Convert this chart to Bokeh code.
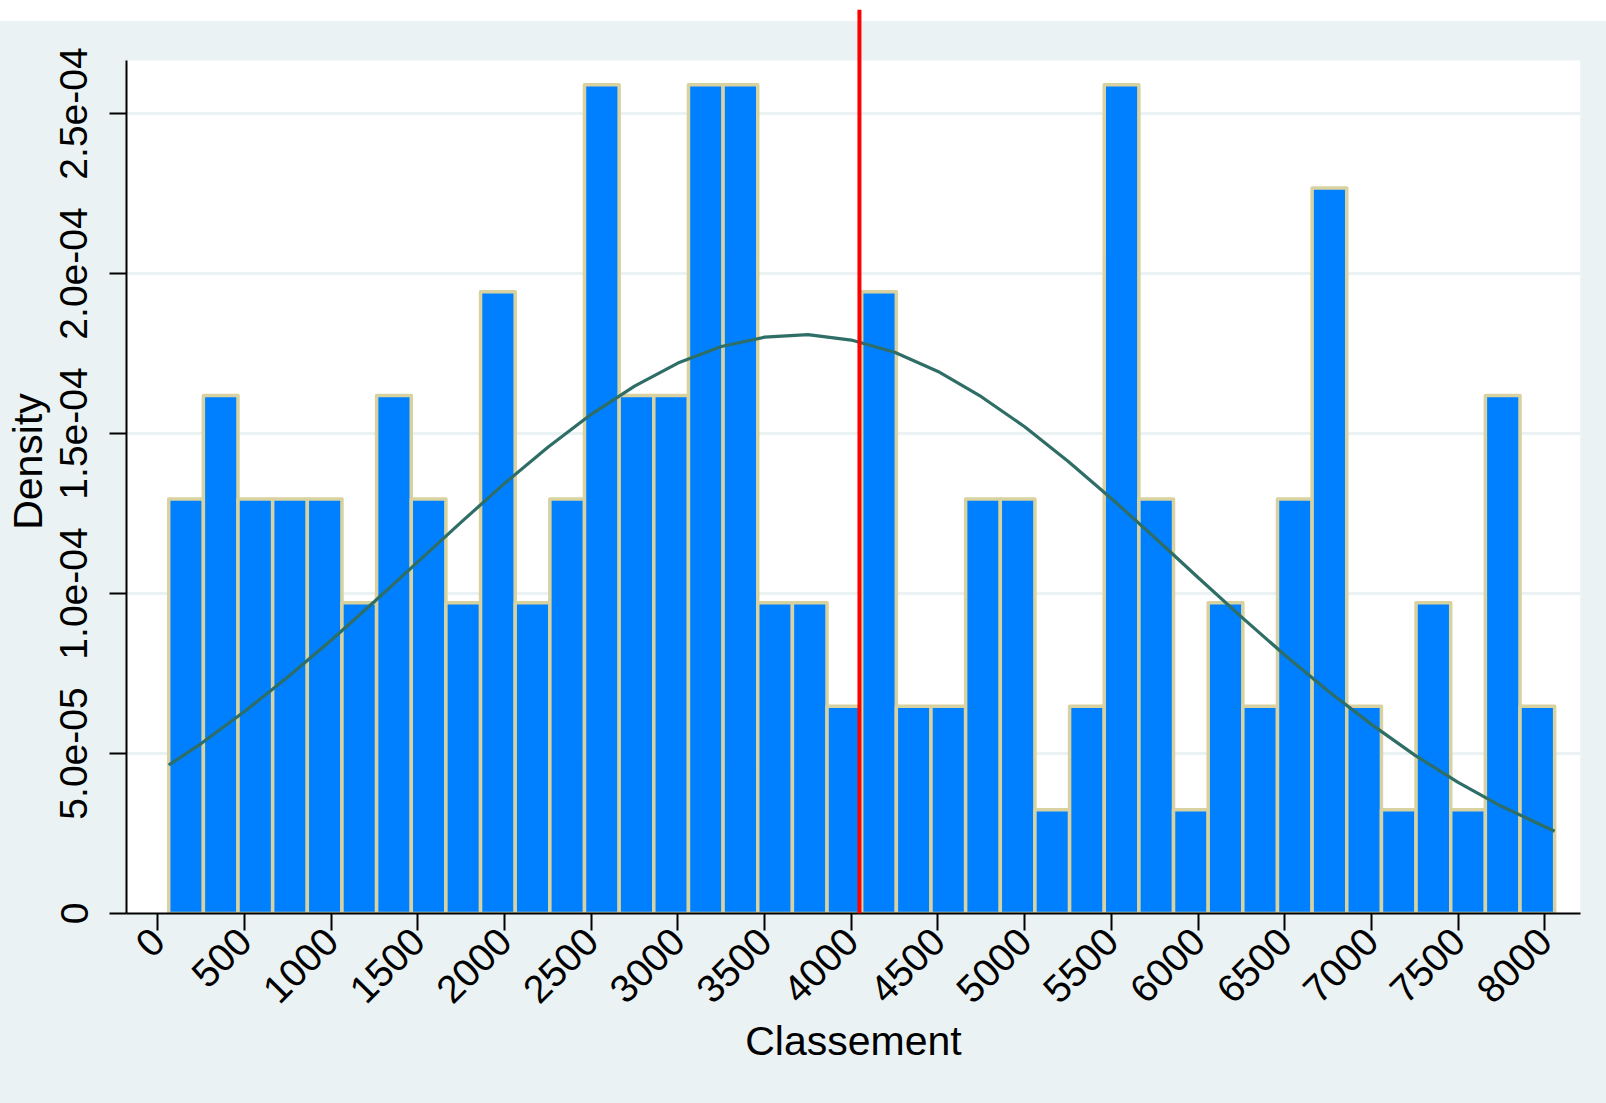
from bokeh.plotting import figure
from bokeh.models import FixedTicker, Range1d, Span, BoxAnnotation
from bokeh.embed import file_html
from bokeh.resources import INLINE
from math import pi

# ---- data ----
bin_start = 63.0
bin_width = 199.85
density = [1.295e-4, 1.619e-4, 1.295e-4, 1.295e-4, 1.295e-4, 0.971e-4, 1.619e-4, 1.295e-4, 0.971e-4, 1.943e-4,
           0.971e-4, 1.295e-4, 2.590e-4, 1.619e-4, 1.619e-4, 2.590e-4, 2.590e-4, 0.971e-4, 0.971e-4, 0.648e-4,
           1.943e-4, 0.648e-4, 0.648e-4, 1.295e-4, 1.295e-4, 0.324e-4, 0.648e-4, 2.590e-4, 1.295e-4, 0.324e-4,
           0.971e-4, 0.648e-4, 1.295e-4, 2.267e-4, 0.648e-4, 0.324e-4, 0.971e-4, 0.324e-4, 1.619e-4, 0.648e-4]

curve_x = [63, 250, 500, 750, 1000, 1250, 1500, 1750, 2000, 2250, 2500, 2750, 3000, 3250, 3500,
           3750, 4000, 4250, 4500, 4750, 5000, 5250, 5500, 5750, 6000, 6250, 6500, 6750, 7000,
           7250, 7500, 7750, 8057]
curve_y = [4.64e-5, 5.31e-5, 6.31e-5, 7.39e-5, 8.54e-5, 9.75e-5, 1.099e-4, 1.223e-4, 1.344e-4,
           1.457e-4, 1.560e-4, 1.648e-4, 1.720e-4, 1.772e-4, 1.801e-4, 1.809e-4, 1.792e-4,
           1.754e-4, 1.694e-4, 1.615e-4, 1.521e-4, 1.413e-4, 1.297e-4, 1.175e-4, 1.050e-4,
           9.27e-5, 8.08e-5, 6.95e-5, 5.91e-5, 4.95e-5, 4.10e-5, 3.35e-5, 2.57e-5]

ref_line_x = 4047

x_ticks = [0, 500, 1000, 1500, 2000, 2500, 3000, 3500, 4000, 4500, 5000, 5500, 6000, 6500, 7000, 7500, 8000]
y_ticks = [0, 5.0e-5, 1.0e-4, 1.5e-4, 2.0e-4, 2.5e-4]
y_tick_labels = ["0", "5.0e-05", "1.0e-04", "1.5e-04", "2.0e-04", "2.5e-04"]

x_title = "Classement"
y_title = "Density"

# ---- layout (pixels) ----
W, H = 1590, 1087
FRAME_LEFT, FRAME_RIGHT = 126, 1580          # plot region horizontally
FRAME_TOP, PLOT_TOP, AXIS_Y = 9, 60, 913     # frame top (red line top), plot region top, x axis
WHITE_BAND = 21                              # white strip at the top of the picture
EXTRA = 16                                   # outer background beyond the figure box
x_lo, x_hi = -180.5, 8206.0
plot_top = 2.6656e-4                         # value at the top of the plot region

BG = "#EAF2F3"
FONT = "Liberation Sans"

dpy = plot_top / (AXIS_Y - PLOT_TOP)
y_end = plot_top + (PLOT_TOP - FRAME_TOP) * dpy

p = figure(width=W, height=H, output_backend="svg", toolbar_location=None,
           x_range=Range1d(x_lo, x_hi), y_range=Range1d(0, y_end),
           min_border_left=FRAME_LEFT, min_border_top=FRAME_TOP,
           min_border_right=W - FRAME_RIGHT, min_border_bottom=H - AXIS_Y)
p.border_fill_color = None
p.background_fill_color = None
p.styles = {
    "background": "linear-gradient(to bottom, #ffffff 0px, #ffffff %dpx, %s %dpx, %s 100%%)"
                  % (WHITE_BAND, BG, WHITE_BAND, BG),
    "box-shadow": "0px %dpx 0 0 %s, %dpx %dpx 0 0 %s" % (WHITE_BAND, BG, EXTRA, WHITE_BAND, BG),
}
p.outline_line_color = None

# white plot region (up to the top of the plot region only)
p.add_layout(BoxAnnotation(bottom=0, top=plot_top, fill_color="white", fill_alpha=1.0,
                           line_color=None, level="image"))

lefts = [bin_start + i * bin_width for i in range(len(density))]
rights = [l + bin_width for l in lefts]
p.quad(left=lefts, right=rights, bottom=0, top=density,
       fill_color="#0080FF", line_color="#D8D2A0", line_width=3.5, line_join="round")

p.line(curve_x, curve_y, line_color="#2E6E66", line_width=3.2)

p.add_layout(Span(location=ref_line_x, dimension="height", line_color="#FF0000", line_width=4))

# axes
p.xaxis.ticker = FixedTicker(ticks=x_ticks)
p.yaxis.ticker = FixedTicker(ticks=y_ticks)
p.yaxis.bounds = (0, plot_top)
p.yaxis.major_label_overrides = {t: l for t, l in zip(y_ticks, y_tick_labels)}
for ax in (p.xaxis[0], p.yaxis[0]):
    ax.axis_line_color = "black"
    ax.axis_line_width = 2
    ax.major_tick_line_color = "black"
    ax.major_tick_line_width = 2
    ax.major_tick_out = 17
    ax.major_tick_in = 0
    ax.minor_tick_line_color = None
    ax.major_label_text_font = FONT
    ax.major_label_text_font_size = "39px"
    ax.major_label_text_color = "black"
    ax.axis_label_text_font = FONT
    ax.axis_label_text_font_size = "41px"
    ax.axis_label_text_font_style = "normal"
    ax.axis_label_text_color = "black"

p.xaxis.major_label_orientation = pi / 4
p.xaxis.major_label_standoff = 4
p.xaxis.axis_label = x_title
p.xaxis.axis_label_standoff = 0
p.yaxis.major_label_orientation = "vertical"
p.yaxis.major_label_standoff = 22
p.yaxis.axis_label = y_title
p.yaxis.axis_label_standoff = 7

p.xgrid.grid_line_color = None
p.ygrid.grid_line_color = BG
p.ygrid.grid_line_width = 3

open("out.html", "w").write(file_html(p, INLINE))
